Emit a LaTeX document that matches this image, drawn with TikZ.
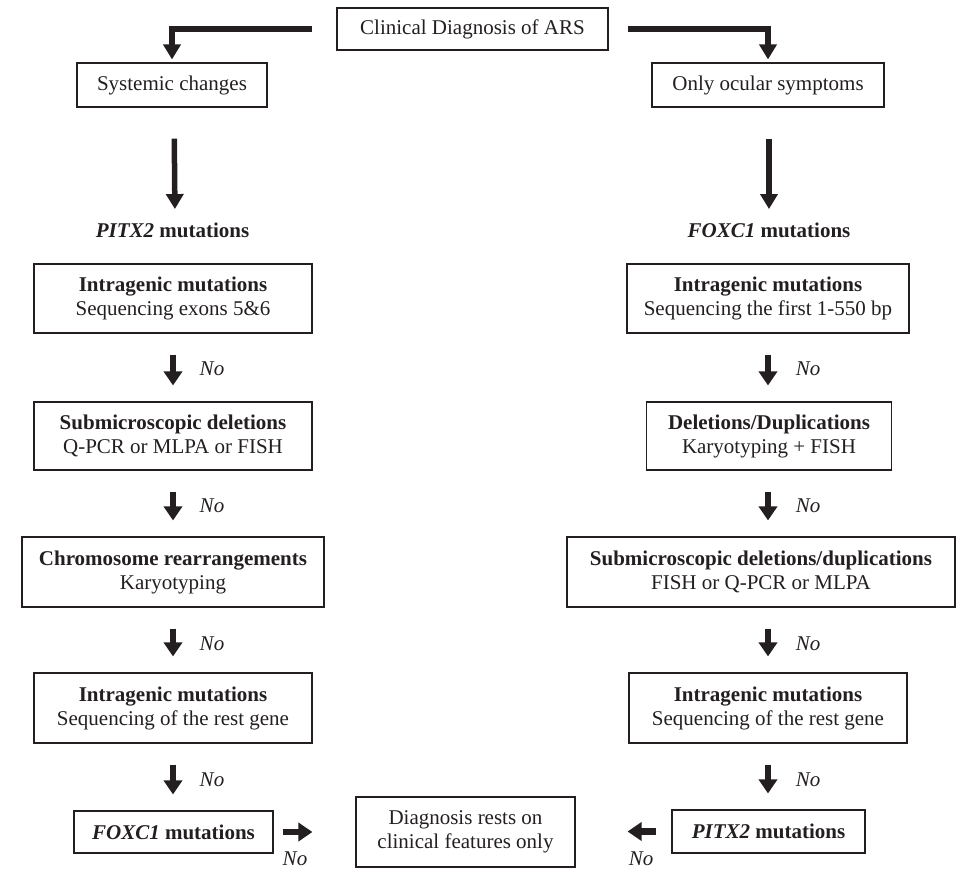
\documentclass[tikz,border=0pt]{standalone}
\usepackage{fontspec}
\setmainfont{Liberation Serif}
\usetikzlibrary{arrows.meta}
\definecolor{ink}{HTML}{231F20}
\begin{document}
\begin{tikzpicture}[x=1pt,y=-1pt,
  box/.style={draw=ink, line width=1.1pt, align=center, inner xsep=4pt, inner ysep=4pt, font=\fontsize{21}{24}\selectfont, text=ink},
  lbl/.style={font=\fontsize{21}{24}\selectfont\bfseries, text=ink},
  nolbl/.style={font=\fontsize{21}{24}\selectfont\itshape, text=ink},
  bigarrow/.style={draw=ink, line width=5.5pt, -{Triangle[width=17pt,length=15pt]}},
  noarrow/.style={draw=ink, line width=6.5pt, -{Triangle[width=18pt,length=14pt]}},
]
\useasboundingbox (0,0) rectangle (959,869);
% top row
\node[box, minimum width=271pt, minimum height=42pt] (top) at (472.5,29) {Clinical Diagnosis of ARS};
\node[box, minimum width=190pt, minimum height=44pt] (sys) at (172,85) {Systemic changes};
\node[box, minimum width=232pt, minimum height=44pt] (ocu) at (768,85) {Only ocular symptoms};
\draw[bigarrow, shorten <=24pt, shorten >=3pt] (top.west) -| (sys.north);
\draw[bigarrow, shorten <=19pt, shorten >=3pt] (top.east) -| (ocu.north);
% gene labels
\node[lbl] (pitx) at (172.5,230) {\textit{PITX2} mutations};
\node[lbl] (foxc) at (769,230) {\textit{FOXC1} mutations};
\draw[bigarrow, shorten <=31pt, shorten >=10pt] ([xshift=2pt]sys.south) -- ([xshift=2.5pt]pitx.north);
\draw[bigarrow, shorten <=31pt, shorten >=10pt] ([xshift=1pt]ocu.south) -- (foxc.north);
% left column
\node[box, minimum width=278pt, minimum height=69pt] (L1) at (173,298.5) {\textbf{Intragenic mutations}\\Sequencing exons 5\&6};
\node[box, minimum width=278pt, minimum height=68pt] (L2) at (173,436) {\textbf{Submicroscopic deletions}\\Q-PCR or MLPA or FISH};
\node[box, minimum width=302pt, minimum height=70pt] (L3) at (173,572) {\textbf{Chromosome rearrangements}\\Karyotyping};
\node[box, minimum width=278pt, minimum height=70pt] (L4) at (173,708) {\textbf{Intragenic mutations}\\Sequencing of the rest gene};
\node[box, minimum width=199pt, minimum height=42pt] (L5) at (173.5,832) {\textbf{\textit{FOXC1} mutations}};
% right column
\node[box, minimum width=282pt, minimum height=69pt] (R1) at (768,298.5) {\textbf{Intragenic mutations}\\Sequencing the first 1-550 bp};
\node[box, minimum width=245pt, minimum height=68pt] (R2) at (769,436) {\textbf{Deletions/Duplications}\\Karyotyping + FISH};
\node[box, minimum width=388pt, minimum height=70pt] (R3) at (761,572) {\textbf{Submicroscopic deletions/duplications}\\FISH or Q-PCR or MLPA};
\node[box, minimum width=278pt, minimum height=70pt] (R4) at (768,708) {\textbf{Intragenic mutations}\\Sequencing of the rest gene};
\node[box, minimum width=193pt, minimum height=43pt] (R5) at (768.5,831.5) {\textbf{\textit{PITX2} mutations}};
% centre
\node[box, minimum width=219pt, minimum height=70pt] (C) at (465.5,832) {Diagnosis rests on\\clinical features only};
% "No" arrows
\foreach \a/\b in {L1/L2,L2/L3,L3/L4,L4/L5}{
  \draw[noarrow, shorten <=21pt, shorten >=16pt] (\a.south) -- (\a.south |- \b.north);
}
\coordinate (rcol) at (768,0);
\foreach \a/\b in {R1/R2,R2/R3,R3/R4,R4/R5}{
  \draw[noarrow, shorten <=21pt, shorten >=16pt] (rcol |- \a.south) -- (rcol |- \b.north);
}
\node[nolbl] (n1) at (212,369) {No};
\node[nolbl] (n2) at (212,506) {No};
\node[nolbl] (n3) at (212,644) {No};
\node[nolbl] (n4) at (212,780) {No};
\node[nolbl] (m1) at (808,369) {No};
\node[nolbl] (m2) at (808,506) {No};
\node[nolbl] (m3) at (808,644) {No};
\node[nolbl] (m4) at (808,780) {No};
% bottom horizontal arrows
\draw[noarrow, shorten <=9pt, shorten >=43pt] (L5.east) -- (L5.east -| C.west);
\draw[noarrow, shorten <=15pt, shorten >=52pt] (R5.west) -- (R5.west -| C.east);
\node[nolbl] (n5) at (295,859) {No};
\node[nolbl] (m5) at (641,859) {No};
\end{tikzpicture}
\end{document}
